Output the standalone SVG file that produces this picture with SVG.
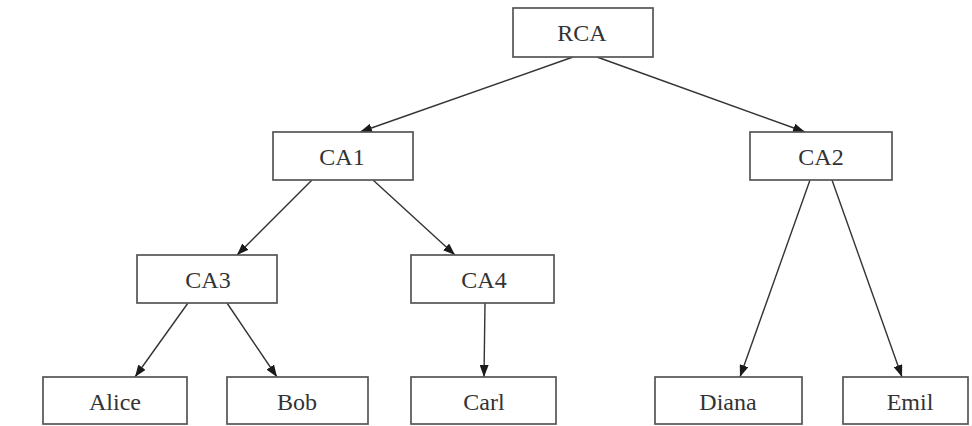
<svg xmlns="http://www.w3.org/2000/svg" width="972" height="426" viewBox="0 0 972 426">
  <style>
    .box { fill: #ffffff; stroke: #555555; stroke-width: 1.7; }
    .lbl { font-family: "Liberation Serif", "DejaVu Serif", serif; font-size: 24px; fill: #333333; text-anchor: middle; }
    .edge { stroke: #333333; stroke-width: 1.4; fill: none; marker-end: url(#arrow); }
  </style>
  <defs>
    <marker id="arrow" viewBox="0 0 12 9" refX="12" refY="4.5" markerWidth="12" markerHeight="9" markerUnits="userSpaceOnUse" orient="auto">
      <path d="M0,0 L12,4.5 L0,9 z" fill="#1a1a1a"/>
    </marker>
  </defs>
  <rect width="972" height="426" fill="#ffffff"/>

  <!-- connectors -->
  <g id="edges">
    <line class="edge" x1="573" y1="57" x2="360" y2="132"/>
    <line class="edge" x1="597" y1="57" x2="805" y2="132"/>
    <line class="edge" x1="312" y1="180" x2="237" y2="255"/>
    <line class="edge" x1="373" y1="180" x2="455" y2="255"/>
    <line class="edge" x1="810" y1="180" x2="740" y2="377"/>
    <line class="edge" x1="832" y1="180" x2="902" y2="377"/>
    <line class="edge" x1="188" y1="303" x2="135" y2="377"/>
    <line class="edge" x1="227" y1="303" x2="277" y2="377"/>
    <line class="edge" x1="485" y1="303" x2="484" y2="377"/>
  </g>

  <!-- nodes -->
  <g id="RCA">
    <rect class="box" x="513" y="8" width="140" height="49"/>
    <text class="lbl" x="582" y="41">RCA</text>
  </g>
  <g id="CA1">
    <rect class="box" x="273" y="132" width="140" height="48"/>
    <text class="lbl" x="342" y="165">CA1</text>
  </g>
  <g id="CA2">
    <rect class="box" x="750" y="132" width="142" height="48"/>
    <text class="lbl" x="821" y="165">CA2</text>
  </g>
  <g id="CA3">
    <rect class="box" x="137" y="255" width="140" height="48"/>
    <text class="lbl" x="208" y="288">CA3</text>
  </g>
  <g id="CA4">
    <rect class="box" x="411" y="255" width="143" height="48"/>
    <text class="lbl" x="484" y="288">CA4</text>
  </g>
  <g id="Alice">
    <rect class="box" x="43" y="377" width="144" height="47"/>
    <text class="lbl" x="115" y="410">Alice</text>
  </g>
  <g id="Bob">
    <rect class="box" x="227" y="377" width="141" height="47"/>
    <text class="lbl" x="297" y="410">Bob</text>
  </g>
  <g id="Carl">
    <rect class="box" x="411" y="377" width="145" height="47"/>
    <text class="lbl" x="484" y="410">Carl</text>
  </g>
  <g id="Diana">
    <rect class="box" x="655" y="377" width="147" height="47"/>
    <text class="lbl" x="728" y="410">Diana</text>
  </g>
  <g id="Emil">
    <rect class="box" x="843" y="377" width="125" height="47"/>
    <text class="lbl" x="910" y="410">Emil</text>
  </g>
</svg>
